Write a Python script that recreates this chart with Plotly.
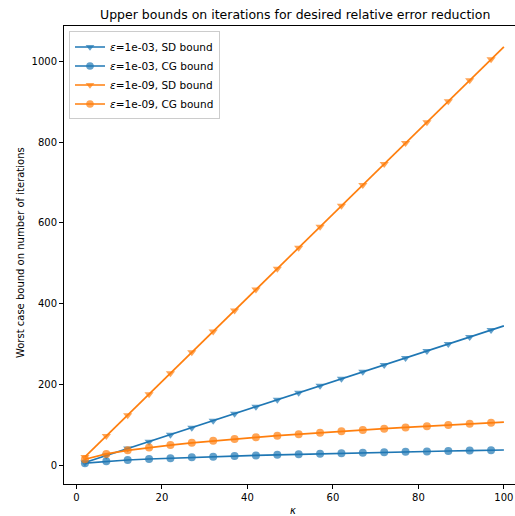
import plotly.graph_objects as go

kappa = [2, 7, 12, 17, 22, 27, 32, 37, 42, 47, 52, 57, 62, 67, 72, 77, 82, 87, 92, 97, 100]

sd_1e3 = [6.9, 24.2, 41.4, 58.7, 76.0, 93.3, 110.5, 127.8, 145.1, 162.3, 179.6,
          196.9, 214.1, 231.4, 248.7, 265.9, 283.2, 300.5, 317.8, 335.0, 345.4]
cg_1e3 = [5.37, 10.06, 13.17, 15.67, 17.83, 19.75, 21.50, 23.12, 24.63, 26.05, 27.41,
          28.69, 29.92, 31.11, 32.25, 33.35, 34.41, 35.45, 36.45, 37.43, 38.00]
sd_1e9 = [20.7, 72.5, 124.3, 176.1, 228.0, 279.8, 331.6, 383.4, 435.2, 487.0, 538.8,
          590.6, 642.4, 694.2, 746.0, 797.8, 849.7, 901.5, 953.3, 1005.1, 1036.2]
cg_1e9 = [15.14, 28.33, 37.09, 44.15, 50.23, 55.64, 60.58, 65.14, 69.40, 73.41, 77.22,
          80.85, 84.32, 87.65, 90.86, 93.96, 96.97, 99.88, 102.71, 105.46, 107.08]

names = ["<i>ε</i>=1e-03, SD bound", "<i>ε</i>=1e-03, CG bound",
         "<i>ε</i>=1e-09, SD bound", "<i>ε</i>=1e-09, CG bound"]
series = [sd_1e3, cg_1e3, sd_1e9, cg_1e9]
colors = ["#1f77b4", "#1f77b4", "#ff7f0e", "#ff7f0e"]
symbols = ["triangle-down", "circle", "triangle-down", "circle"]

fig = go.Figure()
for name, ys, c, s in zip(names, series, colors, symbols):
    sizes = [8] * (len(kappa) - 1) + [0]
    fig.add_trace(go.Scatter(
        x=kappa, y=ys, name=name, mode="lines+markers",
        line=dict(color=c, width=1.7),
        marker=dict(symbol=s, color=c, size=sizes, line=dict(width=0)),
    ))

W, H = 515, 516
L, R, T, B = 64, 515, 25.5, 484.4   # plot area in window pixels
PW, PH = R - L, B - T


def xp(px):
    return (px - L) / PW


def yp(py):
    return (B - py) / PH


fig.update_layout(
    width=W, height=H,
    margin=dict(l=L, r=W - R, t=T, b=H - B, autoexpand=False),
    plot_bgcolor="white", paper_bgcolor="white",
    font=dict(family="DejaVu Sans", size=10, color="black"),
    hovermode=False,
    showlegend=True,
    legend=dict(x=xp(69), y=yp(31), xanchor="left", yanchor="top",
                bgcolor="rgba(255,255,255,0.8)", bordercolor="#cccccc", borderwidth=1,
                font=dict(size=10.5), tracegroupgap=0, itemwidth=30),
    annotations=[
        dict(text="Upper bounds on iterations for desired relative error reduction",
             x=xp(294.5), y=yp(14), xref="paper", yref="paper",
             showarrow=False, font=dict(size=12.5), xanchor="center", yanchor="middle"),
        dict(text="<i>κ</i>", x=xp(293), y=yp(511),
             xref="paper", yref="paper", showarrow=False, font=dict(size=10),
             xanchor="center", yanchor="middle"),
        dict(text="Worst case bound on number of iterations", textangle=-90,
             x=xp(20), y=yp(253), xref="paper", yref="paper",
             showarrow=False, font=dict(size=10), xanchor="center", yanchor="middle"),
    ],
)

fig.update_xaxes(range=[-2.9, 102.6], tickvals=[0, 20, 40, 60, 80, 100],
                 showgrid=False, zeroline=False, showline=True, linecolor="black",
                 linewidth=1, mirror=True, ticks="outside", ticklen=4, tickcolor="black",
                 ticklabeloverflow="allow")
fig.update_yaxes(range=[-46.2, 1087.7], tickvals=[0, 200, 400, 600, 800, 1000],
                 showgrid=False, zeroline=False, showline=True, linecolor="black",
                 linewidth=1, ticks="outside", ticklen=4, tickcolor="black")

fig.write_html("out.html",
               config=dict(displayModeBar=False, staticPlot=True),
               post_script="document.body.style.margin='0px';"
                           "document.body.style.overflow='hidden';")
